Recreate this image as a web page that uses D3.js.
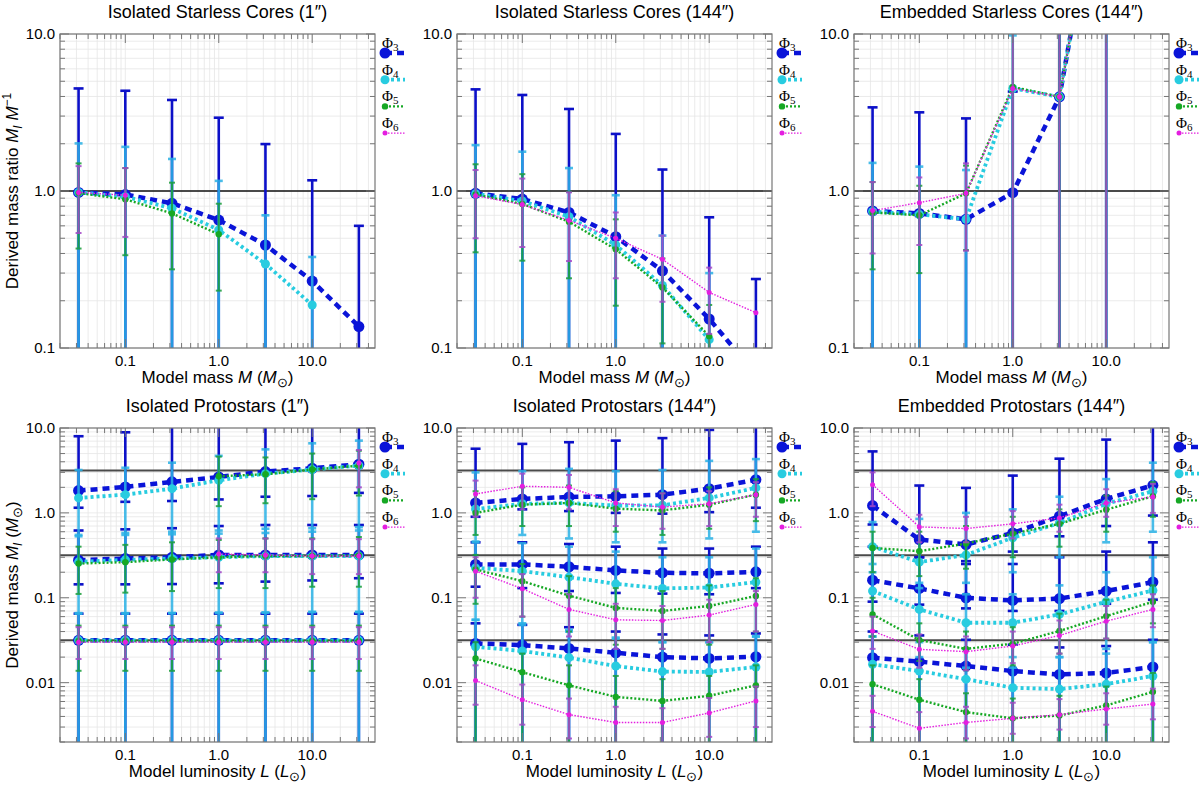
<!DOCTYPE html>
<html lang="en">
<head>
<meta charset="UTF-8">
<script src="https://d3js.org/d3.v7.min.js"></script>
<title>derived masses</title>
<style>
    body { margin: 0; background: #fff; }
    text { font-family: "Liberation Sans", Arial, sans-serif; fill: #000; }
    .phi { font-family: "Liberation Serif", "DejaVu Serif", serif; }
</style>
</head>
<body>
<svg width="1200" height="786"></svg>
<script>
    // x positions of the models (mass or luminosity)
    var xVals = [0.0316, 0.1, 0.316, 1, 3.16, 10, 31.6];
    var xTicks = [0.1, 1, 10];
    var xTickLabels = ["0.1", "1.0", "10.0"];
    var yTicksTop = [0.1, 1, 10];
    var yTickLabelsTop = ["0.1", "1.0", "10.0"];
    var yTicksBot = [0.01, 0.1, 1, 10];
    var yTickLabelsBot = ["0.01", "0.1", "1.0", "10.0"];
    var refTop = [1];
    var refBot = [3.16, 0.316, 0.0316];
    var phiNames = ["3", "4", "5", "6"];
    var titles = ["Isolated Starless Cores (1\u2033)", "Isolated Starless Cores (144\u2033)", "Embedded Starless Cores (144\u2033)",
                  "Isolated Protostars (1\u2033)", "Isolated Protostars (144\u2033)", "Embedded Protostars (144\u2033)"];

    // ---- Isolated Starless Cores (1")
    var isc1_p3    = [[0.98, 0.95, 0.835, 0.653, 0.453, 0.267, 0.137]];
    var isc1_p3_lo = [[0.02, 0.02, 0.02, 0.02, 0.02, 0.02, 0.02]];
    var isc1_p3_hi = [[4.5, 4.35, 3.8, 2.93, 1.99, 1.17, 0.60]];
    var isc1_p4    = [[0.98, 0.92, 0.776, 0.565, 0.343, 0.188, null]];
    var isc1_p4_lo = [[0.02, 0.02, 0.02, 0.02, 0.02, 0.02, null]];
    var isc1_p4_hi = [[2.01, 1.91, 1.6, 1.16, 0.70, 0.38, null]];
    var isc1_p5    = [[0.97, 0.885, 0.72, 0.53, null, null, null]];
    var isc1_p5_lo = [[0.43, 0.39, 0.317, 0.232, null, null, null]];
    var isc1_p5_hi = [[1.5, 1.4, 1.13, 0.83, null, null, null]];
    var isc1_p6    = [[0.98, 0.94, null, null, null, null, null]];
    var isc1_p6_lo = [[0.54, 0.51, null, null, null, null, null]];
    var isc1_p6_hi = [[1.44, 1.4, null, null, null, null, null]];

    // ---- Isolated Starless Cores (144")
    var isc144_p3    = [[0.966, 0.889, 0.73, 0.512, 0.31, 0.153, 0.068]];
    var isc144_p3_lo = [[0.02, 0.02, 0.02, 0.02, 0.02, 0.02, 0.02]];
    var isc144_p3_hi = [[4.44, 4.09, 3.33, 2.31, 1.37, 0.68, 0.275]];
    var isc144_p4    = [[0.96, 0.863, 0.686, 0.453, 0.25, 0.113, null]];
    var isc144_p4_lo = [[0.02, 0.02, 0.02, 0.02, 0.02, 0.02, null]];
    var isc144_p4_hi = [[1.96, 1.78, 1.4, 0.94, 0.52, 0.3, null]];
    var isc144_p5    = [[0.95, 0.827, 0.637, 0.425, 0.243, 0.119, null]];
    var isc144_p5_lo = [[0.407, 0.36, 0.278, 0.186, 0.107, 0.05, null]];
    var isc144_p5_hi = [[1.48, 1.28, 0.99, 0.66, 0.372, 0.188, null]];
    var isc144_p6    = [[0.933, 0.82, 0.65, 0.5, 0.367, 0.226, 0.168]];
    var isc144_p6_lo = [[0.5, 0.44, 0.358, 0.278, 0.197, 0.123, null]];
    var isc144_p6_hi = [[1.36, 1.2, 0.98, 0.73, 0.52, 0.325, null]];

    // ---- Embedded Starless Cores (144")
    var esc144_p3    = [[0.746, 0.72, 0.66, 0.975, 3.98, 180, null]];
    var esc144_p3_lo = [[0.02, 0.02, 0.02, 0.001, 0.001, 0.001, null]];
    var esc144_p3_hi = [[3.41, 3.17, 2.9, 4.3, 100, 1000, null]];
    var esc144_p4    = [[0.74, 0.71, 0.66, 4.5, 3.98, 180, null]];
    var esc144_p4_lo = [[0.02, 0.02, 0.02, 0.001, 0.001, 0.001, null]];
    var esc144_p4_hi = [[1.51, 1.43, 1.36, 9.8, 100, 1000, null]];
    var esc144_p5    = [[0.73, 0.70, 0.966, 4.6, 3.98, 180, null]];
    var esc144_p5_lo = [[0.317, 0.30, 0.42, 0.001, 0.001, 0.001, null]];
    var esc144_p5_hi = [[1.14, 1.08, 1.45, 100, 100, 1000, null]];
    var esc144_p6    = [[0.75, 0.843, 0.966, 4.5, 3.98, 180, null]];
    var esc144_p6_lo = [[0.40, 0.453, 0.417, 0.001, 0.001, 0.001, null]];
    var esc144_p6_hi = [[1.14, 1.22, 1.5, 100, 100, 1000, null]];

    // ---- Isolated Protostars (1"), rows: envelope mass 3.16, 0.316, 0.0316
    var ipr1_p3 = [[1.83, 2.02, 2.32, 2.65, 3.07, 3.35, 3.74],
                   [0.277, 0.29, 0.30, 0.32, 0.32, 0.32, 0.32],
                   [0.0315, 0.0315, 0.0315, 0.0315, 0.0315, 0.0315, 0.0315]];
    var ipr1_p3_lo = [[1.15, 1.35, 1.38, 1.44, 1.55, 1.58, 1.72],
                      [0.144, 0.144, 0.145, 0.148, 0.155, 0.16, 0.17],
                      [0.001, 0.001, 0.001, 0.001, 0.001, 0.001, 0.001]];
    var ipr1_p3_hi = [[8.0, 8.9, 30, 30, 30, 30, 30],
                      [0.62, 0.64, 0.66, 0.7, 0.72, 0.72, 0.72],
                      [0.065, 0.065, 0.065, 0.065, 0.065, 0.065, 0.065]];
    var ipr1_p4 = [[1.5, 1.64, 1.93, 2.42, 2.9, 3.24, 3.6],
                   [0.265, 0.28, 0.29, 0.30, 0.31, 0.31, 0.31],
                   [0.0315, 0.0315, 0.0315, 0.0315, 0.0315, 0.0315, 0.0315]];
    var ipr1_p4_lo = [[0.53, 0.55, 0.56, 0.57, 0.58, 0.6, 0.62],
                      [0.065, 0.065, 0.066, 0.066, 0.067, 0.068, 0.068],
                      [0.001, 0.001, 0.001, 0.001, 0.001, 0.001, 0.001]];
    var ipr1_p4_hi = [[3.2, 3.4, 3.9, 4.7, 5.6, 6.6, 7.1],
                      [0.55, 0.58, 0.6, 0.62, 0.65, 0.66, 0.68],
                      [0.066, 0.066, 0.066, 0.067, 0.067, 0.068, 0.068]];
    var ipr1_p5 = [[null, null, null, 2.7, 2.85, 3.24, 3.6],
                   [0.253, 0.263, 0.283, 0.30, 0.31, 0.31, 0.315],
                   [0.031, 0.031, 0.031, 0.031, 0.031, 0.031, 0.031]];
    var ipr1_p5_lo = [[null, null, null, 1.2, 1.3, 1.45, 1.6],
                      [0.111, 0.115, 0.12, 0.13, 0.13, 0.135, 0.135],
                      [0.0138, 0.0138, 0.0138, 0.0138, 0.0138, 0.0138, 0.0138]];
    var ipr1_p5_hi = [[null, null, null, 4.6, 4.5, 5.0, 5.4],
                      [0.40, 0.42, 0.45, 0.48, 0.5, 0.5, 0.52],
                      [0.047, 0.047, 0.047, 0.047, 0.047, 0.047, 0.047]];
    var ipr1_p6 = [[null, null, null, null, null, null, 3.87],
                   [null, null, null, 0.327, 0.32, 0.31, 0.31],
                   [0.030, 0.030, 0.030, 0.030, 0.030, 0.030, 0.030]];
    var ipr1_p6_lo = [[null, null, null, null, null, null, 2.0],
                      [null, null, null, 0.2, 0.2, 0.19, 0.19],
                      [0.019, 0.019, 0.019, 0.019, 0.019, 0.019, 0.019]];
    var ipr1_p6_hi = [[null, null, null, null, null, null, 5.5],
                      [null, null, null, 0.5, 0.5, 0.49, 0.49],
                      [0.045, 0.045, 0.045, 0.045, 0.045, 0.045, 0.045]];

    // ---- Isolated Protostars (144")
    var ipr144_p3 = [[1.31, 1.46, 1.54, 1.57, 1.64, 1.93, 2.46],
                     [0.247, 0.247, 0.232, 0.21, 0.197, 0.194, 0.202],
                     [0.029, 0.0277, 0.0253, 0.0225, 0.02, 0.0193, 0.0202]];
    var ipr144_p3_lo = [[0.9, 1.1, 1.05, 1.0, 0.98, 1.02, 1.15],
                        [0.135, 0.13, 0.12, 0.114, 0.112, 0.11, 0.13],
                        [0.001, 0.001, 0.001, 0.001, 0.001, 0.001, 0.001]];
    var ipr144_p3_hi = [[5.7, 6.5, 6.8, 7.1, 7.6, 9.5, 30],
                        [0.45, 0.45, 0.43, 0.4, 0.38, 0.38, 0.4],
                        [0.05, 0.048, 0.045, 0.04, 0.037, 0.036, 0.038]];
    var ipr144_p4 = [[1.11, 1.28, 1.31, 1.22, 1.23, 1.5, 1.97],
                     [0.225, 0.206, 0.175, 0.146, 0.129, 0.132, 0.153],
                     [0.0265, 0.0236, 0.0197, 0.0157, 0.0135, 0.0134, 0.0153]];
    var ipr144_p4_lo = [[0.46, 0.55, 0.5, 0.45, 0.45, 0.5, 0.6],
                        [0.055, 0.048, 0.04, 0.033, 0.03, 0.03, 0.035],
                        [0.001, 0.001, 0.001, 0.001, 0.001, 0.001, 0.001]];
    var ipr144_p4_hi = [[3.0, 3.1, 3.3, 3.1, 3.2, 4.1, 4.3],
                        [0.45, 0.44, 0.4, 0.35, 0.3, 0.3, 0.38],
                        [0.055, 0.05, 0.042, 0.034, 0.03, 0.03, 0.035]];
    var ipr144_p5 = [[1.0, 1.25, 1.31, 1.12, 1.07, 1.25, 1.64],
                     [0.216, 0.157, 0.106, 0.076, 0.07, 0.08, 0.105],
                     [0.0193, 0.0133, 0.0093, 0.0068, 0.0061, 0.007, 0.0093]];
    var ipr144_p5_lo = [[0.55, 0.7, 0.7, 0.6, 0.55, 0.65, 0.8],
                        [0.085, 0.06, 0.04, 0.028, 0.025, 0.028, 0.04],
                        [0.001, 0.001, 0.001, 0.001, 0.001, 0.001, 0.001]];
    var ipr144_p5_hi = [[1.8, 2.0, 2.1, 1.8, 1.7, 2.0, 2.5],
                        [0.32, 0.25, 0.18, 0.13, 0.12, 0.14, 0.17],
                        [0.03, 0.022, 0.016, 0.012, 0.011, 0.012, 0.016]];
    var ipr144_p6 = [[1.67, 2.06, 2.0, 1.31, 1.17, 1.28, 1.64],
                     [0.206, 0.128, 0.073, 0.055, 0.054, 0.0625, 0.0835],
                     [0.0106, 0.0063, 0.0042, 0.0034, 0.0034, 0.0044, 0.0061]];
    var ipr144_p6_lo = [[0.9, 1.1, 1.1, 0.7, 0.65, 0.7, 0.9],
                        [0.1, 0.06, 0.035, 0.025, 0.025, 0.03, 0.04],
                        [0.0055, 0.0032, 0.0022, 0.0018, 0.0018, 0.0023, 0.003]];
    var ipr144_p6_hi = [[2.4, 2.9, 2.8, 1.9, 1.7, 1.8, 2.3],
                        [0.3, 0.19, 0.11, 0.085, 0.08, 0.095, 0.12],
                        [0.016, 0.0095, 0.0065, 0.0052, 0.005, 0.0066, 0.009]];

    // ---- Embedded Protostars (144")
    var epr144_p3 = [[1.22, 0.485, 0.424, 0.58, 0.914, 1.46, 2.11],
                     [0.161, 0.129, 0.1, 0.093, 0.098, 0.12, 0.153],
                     [0.0197, 0.0177, 0.0157, 0.0137, 0.0125, 0.013, 0.0153]];
    var epr144_p3_lo = [[0.73, 0.3, 0.27, 0.35, 0.53, 0.7, 0.93],
                        [0.09, 0.083, 0.075, 0.07, 0.07, 0.085, 0.095],
                        [0.001, 0.001, 0.001, 0.001, 0.001, 0.001, 0.001]];
    var epr144_p3_hi = [[5.3, 2.1, 1.97, 2.75, 4.35, 7.3, 30],
                        [0.4, 0.3, 0.25, 0.25, 0.3, 0.35, 0.45],
                        [0.04, 0.036, 0.032, 0.028, 0.026, 0.027, 0.032]];
    var epr144_p4 = [[0.40, 0.263, 0.32, 0.51, 0.76, 1.28, 1.8],
                     [0.12, 0.073, 0.0508, 0.0508, 0.0637, 0.0897, 0.122],
                     [0.0165, 0.0137, 0.011, 0.0087, 0.0084, 0.0096, 0.012]];
    var epr144_p4_lo = [[0.2, 0.13, 0.15, 0.2, 0.3, 0.45, 0.6],
                        [0.035, 0.02, 0.015, 0.015, 0.02, 0.025, 0.03],
                        [0.001, 0.001, 0.001, 0.001, 0.001, 0.001, 0.001]];
    var epr144_p4_hi = [[0.78, 0.85, 1.0, 1.1, 1.55, 2.5, 3.9],
                        [0.25, 0.15, 0.11, 0.11, 0.14, 0.2, 0.3],
                        [0.035, 0.03, 0.025, 0.02, 0.02, 0.022, 0.03]];
    var epr144_p5 = [[0.387, 0.354, 0.435, 0.57, 0.743, 1.09, 1.57],
                     [0.0637, 0.0318, 0.025, 0.0288, 0.0406, 0.0608, 0.0897],
                     [0.0096, 0.0063, 0.0045, 0.0038, 0.0041, 0.0054, 0.0078]];
    var epr144_p5_lo = [[0.2, 0.18, 0.22, 0.3, 0.4, 0.6, 0.9],
                        [0.035, 0.018, 0.014, 0.016, 0.022, 0.033, 0.05],
                        [0.001, 0.001, 0.001, 0.001, 0.001, 0.001, 0.001]];
    var epr144_p5_hi = [[0.6, 0.6, 0.7, 0.9, 1.1, 1.6, 2.3],
                        [0.1, 0.05, 0.04, 0.045, 0.065, 0.095, 0.14],
                        [0.016, 0.011, 0.0075, 0.0065, 0.007, 0.009, 0.013]];
    var epr144_p6 = [[2.15, 0.684, 0.654, 0.743, 0.873, 1.31, 1.54],
                     [0.0406, 0.0247, 0.0232, 0.027, 0.036, 0.053, 0.073],
                     [0.0046, 0.0029, 0.0034, 0.0038, 0.0042, 0.0049, 0.0056]];
    var epr144_p6_lo = [[1.2, 0.45, 0.45, 0.5, 0.6, 0.9, 1.0],
                        [0.025, 0.015, 0.014, 0.017, 0.022, 0.033, 0.045],
                        [0.003, 0.0019, 0.0022, 0.0025, 0.0028, 0.0032, 0.0037]];
    var epr144_p6_hi = [[3.0, 0.95, 0.9, 1.05, 1.25, 1.9, 2.2],
                        [0.06, 0.037, 0.035, 0.04, 0.054, 0.08, 0.11],
                        [0.007, 0.0045, 0.0052, 0.0058, 0.0064, 0.0075, 0.0085]];

    // series styles
    var styles = [
        {color: "#0a14d8", err: "#0c10c8", op: 1.0, width: 4.5, dash: "7,5", r: 5.5, cap: 5, ew: 2.6},
        {color: "#28cce0", err: "#2ab2e6", op: 0.85, width: 3.8, dash: "3,3", r: 4.5, cap: 4, ew: 2.6},
        {color: "#16a824", err: "#1a9e3a", op: 0.85, width: 2.4, dash: "2,2", r: 3.2, cap: 3, ew: 2},
        {color: "#e41ee0", err: "#a548c8", op: 0.85, width: 1.4, dash: "1.5,1.5", r: 2.5, cap: 3, ew: 2}
    ];

    var panels = [
        {title: titles[0], bottom: false, v: [isc1_p3, isc1_p4, isc1_p5, isc1_p6],
         lo: [isc1_p3_lo, isc1_p4_lo, isc1_p5_lo, isc1_p6_lo], hi: [isc1_p3_hi, isc1_p4_hi, isc1_p5_hi, isc1_p6_hi]},
        {title: titles[1], bottom: false, v: [isc144_p3, isc144_p4, isc144_p5, isc144_p6],
         lo: [isc144_p3_lo, isc144_p4_lo, isc144_p5_lo, isc144_p6_lo], hi: [isc144_p3_hi, isc144_p4_hi, isc144_p5_hi, isc144_p6_hi]},
        {title: titles[2], bottom: false, v: [esc144_p3, esc144_p4, esc144_p5, esc144_p6],
         lo: [esc144_p3_lo, esc144_p4_lo, esc144_p5_lo, esc144_p6_lo], hi: [esc144_p3_hi, esc144_p4_hi, esc144_p5_hi, esc144_p6_hi]},
        {title: titles[3], bottom: true, v: [ipr1_p3, ipr1_p4, ipr1_p5, ipr1_p6],
         lo: [ipr1_p3_lo, ipr1_p4_lo, ipr1_p5_lo, ipr1_p6_lo], hi: [ipr1_p3_hi, ipr1_p4_hi, ipr1_p5_hi, ipr1_p6_hi]},
        {title: titles[4], bottom: true, v: [ipr144_p3, ipr144_p4, ipr144_p5, ipr144_p6],
         lo: [ipr144_p3_lo, ipr144_p4_lo, ipr144_p5_lo, ipr144_p6_lo], hi: [ipr144_p3_hi, ipr144_p4_hi, ipr144_p5_hi, ipr144_p6_hi]},
        {title: titles[5], bottom: true, v: [epr144_p3, epr144_p4, epr144_p5, epr144_p6],
         lo: [epr144_p3_lo, epr144_p4_lo, epr144_p5_lo, epr144_p6_lo], hi: [epr144_p3_hi, epr144_p4_hi, epr144_p5_hi, epr144_p6_hi]}
    ];

    var svg = d3.select("svg");
    var W = 315, H = 314;
    var lefts = [60, 457, 854], tops = [34, 428];

    panels.forEach(function(p, idx) {
        var px = lefts[idx % 3], py = tops[idx < 3 ? 0 : 1];
        var g = svg.append("g").attr("transform", "translate(" + px + "," + py + ")");

        var x = d3.scaleLog().domain([0.02, 47]).range([0, W]);
        var y = d3.scaleLog().domain(p.bottom ? [0.002, 10] : [0.1, 10]).range([H, 0]);
        var yMajor = p.bottom ? yTicksBot : yTicksTop;
        var yLabels = p.bottom ? yTickLabelsBot : yTickLabelsTop;
        var isMajor = function(list, v) {
            return list.some(function(m) { return Math.abs(Math.log10(m) - Math.log10(v)) < 1e-6; });
        };

        // faint grid at every log tick
        g.selectAll(".gx").data(x.ticks()).enter().append("line")
            .attr("x1", function(d) { return x(d); }).attr("x2", function(d) { return x(d); })
            .attr("y1", 0).attr("y2", H)
            .attr("stroke", "#e6e6e6").attr("stroke-width", 0.8);
        g.selectAll(".gy").data(y.ticks()).enter().append("line")
            .attr("y1", function(d) { return y(d); }).attr("y2", function(d) { return y(d); })
            .attr("x1", 0).attr("x2", W)
            .attr("stroke", "#e6e6e6").attr("stroke-width", 0.8);

        // reference lines
        var refs = p.bottom ? refBot : refTop;
        g.selectAll(".ref").data(refs).enter().append("line")
            .attr("x1", 0).attr("x2", W)
            .attr("y1", function(d) { return y(d); }).attr("y2", function(d) { return y(d); })
            .attr("stroke", p.bottom ? "#4a4a4a" : "#111")
            .attr("stroke-width", p.bottom ? 2 : 1.4);

        // clipped data layer
        var clipId = "clip" + idx;
        g.append("clipPath").attr("id", clipId).append("rect")
            .attr("x", 0).attr("y", 0).attr("width", W).attr("height", H);
        var dg = g.append("g").attr("clip-path", "url(#" + clipId + ")");

        var line = d3.line()
            .defined(function(d) { return d.v != null; })
            .x(function(d) { return x(d.x); })
            .y(function(d) { return y(d.v); });

        p.v.forEach(function(rows, s) {
            var st = styles[s];
            var sg = dg.append("g");
            rows.forEach(function(row, r) {
                var pts = row.map(function(v, i) {
                    return {x: xVals[i], v: v, lo: p.lo[s][r][i], hi: p.hi[s][r][i]};
                });
                var withErr = pts.filter(function(d) { return d.v != null && d.lo != null && d.hi != null; });

                // error bars
                var eb = sg.append("g").attr("stroke", st.err).attr("stroke-width", st.ew).attr("opacity", st.op);
                eb.selectAll(".bar").data(withErr).enter().append("line")
                    .attr("x1", function(d) { return x(d.x); }).attr("x2", function(d) { return x(d.x); })
                    .attr("y1", function(d) { return y(d.lo); }).attr("y2", function(d) { return y(d.hi); });
                ["lo", "hi"].forEach(function(k) {
                    eb.selectAll(".cap" + k).data(withErr).enter().append("line")
                        .attr("x1", function(d) { return x(d.x) - st.cap; })
                        .attr("x2", function(d) { return x(d.x) + st.cap; })
                        .attr("y1", function(d) { return y(d[k]); })
                        .attr("y2", function(d) { return y(d[k]); });
                });

                // connecting line
                sg.append("path").datum(pts)
                    .attr("d", line)
                    .attr("fill", "none")
                    .attr("stroke", st.color)
                    .attr("stroke-width", st.width)
                    .attr("stroke-dasharray", st.dash);

                // markers
                sg.selectAll(".pt").data(pts.filter(function(d) { return d.v != null; })).enter()
                    .append("circle")
                    .attr("cx", function(d) { return x(d.x); })
                    .attr("cy", function(d) { return y(d.v); })
                    .attr("r", st.r)
                    .attr("fill", st.color);
            });
        });

        // ticks on all four sides, pointing in
        var tk = g.append("g").attr("stroke", "#777").attr("stroke-width", 1);
        x.ticks().forEach(function(t) {
            var len = isMajor(xTicks, t) ? 9 : 5;
            tk.append("line").attr("x1", x(t)).attr("x2", x(t)).attr("y1", H).attr("y2", H - len);
            tk.append("line").attr("x1", x(t)).attr("x2", x(t)).attr("y1", 0).attr("y2", len);
        });
        y.ticks().forEach(function(t) {
            var len = isMajor(yMajor, t) ? 9 : 5;
            tk.append("line").attr("y1", y(t)).attr("y2", y(t)).attr("x1", 0).attr("x2", len);
            tk.append("line").attr("y1", y(t)).attr("y2", y(t)).attr("x1", W).attr("x2", W - len);
        });

        // frame
        g.append("rect").attr("width", W).attr("height", H)
            .attr("fill", "none").attr("stroke", "#777").attr("stroke-width", 1.2);

        // tick labels
        g.selectAll(".xl").data(xTicks).enter().append("text")
            .attr("x", function(d) { return x(d); })
            .attr("y", H + 18)
            .attr("text-anchor", "middle")
            .style("font-size", "15px")
            .text(function(d, i) { return xTickLabels[i]; });
        g.selectAll(".yl").data(yMajor).enter().append("text")
            .attr("x", -5)
            .attr("y", function(d) { return y(d) + 5; })
            .attr("text-anchor", "end")
            .style("font-size", "15px")
            .text(function(d, i) { return yLabels[i]; });

        // title
        g.append("text").attr("x", W / 2).attr("y", -16)
            .attr("text-anchor", "middle")
            .style("font-size", "18px")
            .text(p.title);

        // x axis label
        var xl = g.append("text").attr("x", W / 2).attr("y", H + 35)
            .attr("text-anchor", "middle").style("font-size", "17px");
        var sym = p.bottom ? "L" : "M";
        xl.append("tspan").text(p.bottom ? "Model luminosity " : "Model mass ");
        xl.append("tspan").style("font-style", "italic").text(sym);
        xl.append("tspan").text(" (");
        xl.append("tspan").style("font-style", "italic").text(sym);
        xl.append("tspan").attr("dy", 4).style("font-size", "13px").text("\u2299");
        xl.append("tspan").attr("dy", -4).text(")");

        // y axis label (left column only)
        if (idx % 3 === 0) {
            var yl = g.append("text")
                .attr("transform", "translate(" + (-42) + "," + (H / 2) + ") rotate(-90)")
                .attr("text-anchor", "middle").style("font-size", "17px");
            if (p.bottom) {
                yl.append("tspan").text("Derived mass ");
                yl.append("tspan").style("font-style", "italic").text("M");
                yl.append("tspan").attr("dy", 4).style("font-size", "12px").style("font-style", "italic").text("I");
                yl.append("tspan").attr("dy", -4).text(" (");
                yl.append("tspan").style("font-style", "italic").text("M");
                yl.append("tspan").attr("dy", 4).style("font-size", "13px").text("\u2299");
                yl.append("tspan").attr("dy", -4).text(")");
            } else {
                yl.append("tspan").text("Derived mass ratio ");
                yl.append("tspan").style("font-style", "italic").text("M");
                yl.append("tspan").attr("dy", 4).style("font-size", "12px").style("font-style", "italic").text("I");
                yl.append("tspan").attr("dy", -4).style("font-style", "italic").text(" M");
                yl.append("tspan").attr("dy", -7).style("font-size", "12px").text("\u22121");
            }
        }

        // legend
        var lg = g.append("g").attr("transform", "translate(" + (W + 6) + ",0)");
        phiNames.forEach(function(n, s) {
            var st = styles[s];
            var ly = 14 + s * 26.7;
            var t = lg.append("text").attr("class", "phi").attr("x", 1).attr("y", ly).style("font-size", "15px");
            t.append("tspan").text("\u03A6");
            t.append("tspan").attr("dy", 3).style("font-size", "11px").text(n);
            lg.append("line").attr("x1", 4).attr("x2", 24)
                .attr("y1", ly + 5).attr("y2", ly + 5)
                .attr("stroke", st.color).attr("stroke-width", st.width)
                .attr("stroke-dasharray", st.dash);
            lg.append("circle").attr("cx", 4).attr("cy", ly + 5).attr("r", st.r).attr("fill", st.color);
        });
    });
</script>
</body>
</html>
